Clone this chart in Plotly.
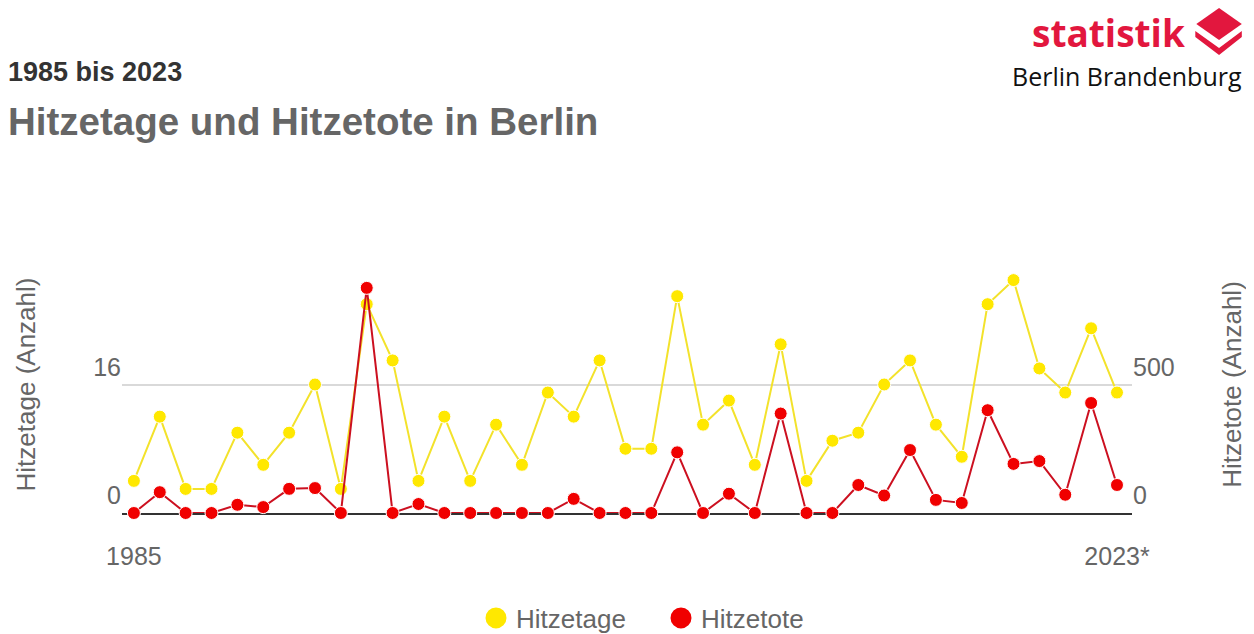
import plotly.graph_objects as go

# ---------------- data ----------------
years = [1985, 1986, 1987, 1988, 1989, 1990, 1991, 1992, 1993, 1994,
         1995, 1996, 1997, 1998, 1999, 2000, 2001, 2002, 2003, 2004,
         2005, 2006, 2007, 2008, 2009, 2010, 2011, 2012, 2013, 2014,
         2015, 2016, 2017, 2018, 2019, 2020, 2021, 2022, 2023]
hitzetage = [4, 12, 3, 3, 10, 6, 10, 16, 3, 26,
             19, 4, 12, 4, 11, 6, 15, 12, 19, 8,
             8, 27, 11, 14, 6, 21, 4, 9, 10, 16,
             19, 11, 7, 26, 29, 18, 15, 23, 15]
hitzetote = [0, 81, 0, 0, 32, 23, 94, 97, 0, 876,
             0, 35, 0, 0, 0, 0, 0, 55, 0, 0,
             0, 236, 0, 75, 0, 387, 0, 0, 109, 68,
             245, 51, 39, 400, 191, 202, 71, 428, 109]
x_tickvals = [1985, 2023]
x_ticktext = ["1985", "2023*"]
y1_tickvals = [0, 16, 32]
y1_ticktext = ["0", "16", ""]
y2_tickvals = [0, 500, 1000]
y2_ticktext = ["0", "500", ""]

# ---------------- layout geometry ----------------
# The page keeps the browser's default 8px body margin, so the figure is laid
# out 8px smaller and every page position is shifted by OFF.
OFF = 8
W, H = 1254 - OFF, 634 - OFF
L, R, T, B = 122 - OFF, 1143 - OFF, 256 - OFF, 513 - OFF

def px(x):
    """page x pixel -> paper coordinate"""
    return (x - OFF - L) / (R - L)

def py(y):
    """page y pixel -> paper coordinate"""
    return (B - (y - OFF)) / (B - T)

YELLOW = "#FFE800"
YELLOW_LINE = "#F3E22B"
RED = "#F00000"
RED_LINE = "#CC1020"
GRAY = "#666666"
FONT = "Liberation Sans, Arial, sans-serif"
LOGO_RED = "#E2173E"

fig = go.Figure()
fig.add_trace(go.Scatter(
    x=years, y=hitzetage, name="Hitzetage", mode="lines+markers",
    line=dict(color=YELLOW_LINE, width=2),
    marker=dict(color=YELLOW, size=13, line=dict(color="white", width=1)),
    cliponaxis=False, showlegend=False))
fig.add_trace(go.Scatter(
    x=years, y=hitzetote, name="Hitzetote", mode="lines+markers", yaxis="y2",
    line=dict(color=RED_LINE, width=2),
    marker=dict(color=RED, size=13, line=dict(color="white", width=1)),
    cliponaxis=False, showlegend=False))
# legend entries (circles only)
fig.add_trace(go.Scatter(x=[None], y=[None], mode="markers", name="Hitzetage",
                         marker=dict(color=YELLOW, size=16, line=dict(color=YELLOW, width=5))))
fig.add_trace(go.Scatter(x=[None], y=[None], mode="markers", name="Hitzetote",
                         marker=dict(color=RED, size=16, line=dict(color=RED, width=5)),
                         yaxis="y2"))

shapes = [
    dict(type="path", xref="paper", yref="paper", layer="above",
         path=f"M{px(1208)},{py(24)} L{px(1231)},{py(8)} L{px(1254)},{py(24)} L{px(1231)},{py(40)} Z",
         fillcolor=LOGO_RED, line=dict(width=0)),
    dict(type="path", xref="paper", yref="paper", layer="above",
         path=(f"M{px(1207)},{py(31)} L{px(1231)},{py(48)} L{px(1254)},{py(31)} "
               f"L{px(1254)},{py(37)} L{px(1231)},{py(55)} L{px(1207)},{py(37)} Z"),
         fillcolor=LOGO_RED, line=dict(width=0)),
]

annotations = [
    dict(text="1985 bis 2023", xref="paper", yref="paper", x=px(5), y=py(72),
         xanchor="left", yanchor="middle", showarrow=False,
         font=dict(family=FONT, size=27, color="#333333", weight="bold")),
    dict(text="statistik", xref="paper", yref="paper", x=px(1199), y=py(32.5),
         xanchor="right", yanchor="middle", showarrow=False,
         font=dict(family="Open Sans", size=37, color=LOGO_RED, weight="bold")),
    dict(text="Berlin Brandenburg", xref="paper", yref="paper", x=px(1256), y=py(76),
         xanchor="right", yanchor="middle", showarrow=False,
         font=dict(family="Open Sans", size=25, color="#111111")),
]

fig.update_layout(
    width=W, height=H, autosize=False,
    margin=dict(l=L, r=W - R, t=T, b=H - B, pad=0),
    paper_bgcolor="white", plot_bgcolor="white",
    font=dict(family=FONT, size=25, color=GRAY),
    title=dict(text="Hitzetage und Hitzetote in Berlin", xref="container", yref="container",
               x=0, y=1 - (122 - OFF) / H, xanchor="left", yanchor="middle",
               font=dict(family=FONT, size=38.5, color=GRAY, weight="bold")),
    xaxis=dict(range=[1984.54, 2023.58], tickvals=x_tickvals, ticktext=x_ticktext,
               showgrid=False, zeroline=False, showline=True, linecolor="#333333",
               linewidth=1.5, layer="below traces", ticks="",
               tickfont=dict(size=25, color=GRAY), ticklabelstandoff=20),
    yaxis=dict(range=[0, 32], tickvals=y1_tickvals, ticktext=y1_ticktext,
               showgrid=True, gridcolor="#D9D9D9", gridwidth=1.5, zeroline=False,
               showline=False, ticks="", ticklabelposition="outside top",
               tickfont=dict(size=25, color=GRAY),
               title=dict(text="Hitzetage (Anzahl)", font=dict(size=26, color=GRAY), standoff=50)),
    yaxis2=dict(range=[0, 1000], tickvals=y2_tickvals, ticktext=y2_ticktext,
                overlaying="y", side="right", showgrid=False, zeroline=False,
                showline=False, ticks="", ticklabelposition="outside top",
                tickfont=dict(size=25, color=GRAY),
                title=dict(text="Hitzetote (Anzahl)", font=dict(size=26, color=GRAY), standoff=49)),
    legend=dict(orientation="h", xref="container", yref="container",
                x=(661 - OFF) / W, xanchor="center", y=1 - (618 - OFF) / H, yanchor="middle",
                font=dict(size=26, color=GRAY), itemclick=False, entrywidth=140),
    shapes=shapes,
    annotations=annotations,
    showlegend=True,
)

fig.write_html("out.html", config={"displayModeBar": False})
